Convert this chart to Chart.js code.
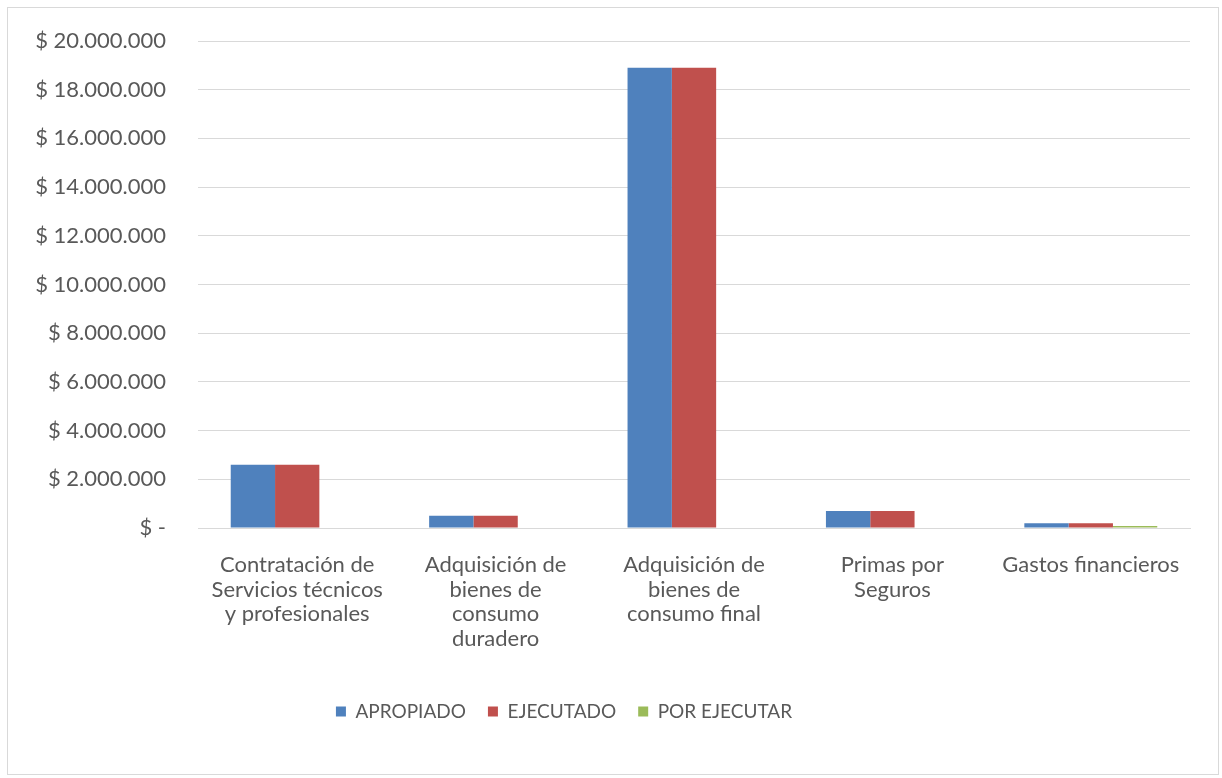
<!DOCTYPE html>
<html lang="es">
<head>
  <meta charset="UTF-8" />
  <title>Ejecución presupuestal</title>
  <style>
    body {
      margin: 0;
      background: #ffffff;
      font-family: Lato, "Open Sans", sans-serif;
    }
    .frame {
      position: absolute;
      left: 7px;
      top: 7px;
      width: 1212px;
      height: 768px;
      border: 1px solid #d9d9d9;
      box-sizing: border-box;
    }
  </style>
</head>
<body>
  <div class="frame">
    <canvas id="budgetChart"></canvas>
  </div>

  <script src="https://cdn.jsdelivr.net/npm/chart.js"></script>
  <script>
    const categories = [
      ['Contratación de', 'Servicios técnicos', 'y profesionales'],
      ['Adquisición de', 'bienes de', 'consumo', 'duradero'],
      ['Adquisición de', 'bienes de', 'consumo final'],
      ['Primas por', 'Seguros'],
      ['Gastos financieros']
    ];
    const apropiado = [2600000, 500000, 18900000, 700000, 200000];
    const ejecutado = [2600000, 500000, 18900000, 700000, 190000];
    const porEjecutar = [0, 0, 0, 0, 80000];
    const yTicks = [0, 2000000, 4000000, 6000000, 8000000, 10000000,
                    12000000, 14000000, 16000000, 18000000, 20000000];

    const textColor = '#595959';
    const gridColor = '#d9d9d9';

    const money = v => v === 0 ? '$ -' : '$ ' + String(v).replace(/\B(?=(\d{3})+(?!\d))/g, '.');

    // Excel centres the legend a bit left of the canvas middle
    const shiftLegend = {
      id: 'shiftLegend',
      afterLayout(chart) {
        chart.legend.left -= 35;
        chart.legend.right -= 35;
      }
    };

    new Chart(document.getElementById('budgetChart'), {
      type: 'bar',
      data: {
        labels: categories,
        datasets: [
          { label: 'APROPIADO', data: apropiado, backgroundColor: '#4f81bd' },
          { label: 'EJECUTADO', data: ejecutado, backgroundColor: '#c0504d' },
          { label: 'POR EJECUTAR', data: porEjecutar, backgroundColor: '#9bbb59' }
        ]
      },
      plugins: [shiftLegend],
      options: {
        responsive: true,
        maintainAspectRatio: false,
        animation: false,
        categoryPercentage: 0.67,
        barPercentage: 1,
        layout: { padding: { left: 0, right: 28, top: 33, bottom: 43 } },
        plugins: {
          tooltip: { enabled: false },
          legend: {
            position: 'bottom',
            labels: {
              boxWidth: 10,
              boxHeight: 10,
              padding: 22,
              color: textColor,
              font: { family: 'Lato', size: 19 }
            }
          }
        },
        scales: {
          x: {
            grid: { display: false, drawTicks: false },
            border: { color: gridColor },
            ticks: {
              color: textColor,
              padding: 25,
              maxRotation: 0,
              autoSkip: false,
              font: { family: 'Lato', size: 22, lineHeight: 1.114 }
            },
            afterFit: s => { s.height = 152; }
          },
          y: {
            min: 0,
            max: 20000000,
            afterBuildTicks: s => { s.ticks = yTicks.map(v => ({ value: v })); },
            // invisible tick marks keep the labels away from the plot
            grid: { color: gridColor, drawTicks: true, tickLength: 24, tickColor: 'rgba(0,0,0,0)' },
            border: { display: false },
            ticks: {
              color: textColor,
              padding: 8,
              font: { family: 'Lato', size: 22 },
              callback: v => money(v)
            },
            afterFit: s => { s.width = 190; }
          }
        }
      }
    });
  </script>
</body>
</html>
